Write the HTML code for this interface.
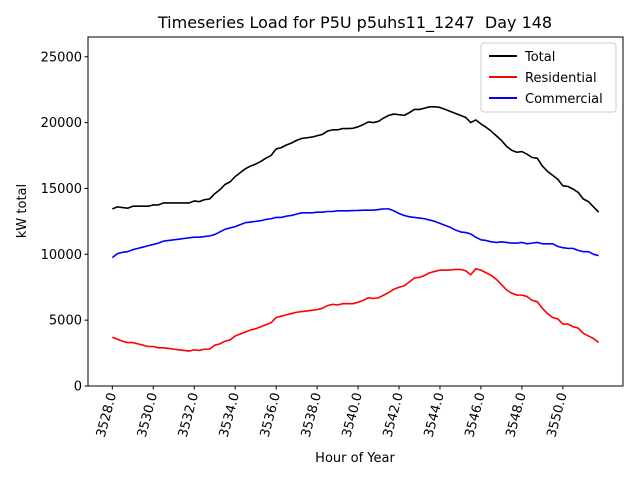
<!DOCTYPE html>
<html><head><meta charset="utf-8"><style>
html,body{margin:0;padding:0;background:#fff;}
svg text{font-family:"DejaVu Sans","Liberation Sans",sans-serif;}
</style></head><body>
<svg id="chart" width="640" height="480" xmlns="http://www.w3.org/2000/svg">
<rect width="640" height="480" fill="#fff"/>
<text x="355" y="28" font-size="16" text-anchor="middle" style="white-space:pre">Timeseries Load for P5U p5uhs11_1247  Day 148</text>
<g id="plot"></g>
<rect x="88" y="37" width="535" height="349" fill="none" stroke="#000" stroke-width="1"/>
<text transform="translate(26,211) rotate(-90)" font-size="13" text-anchor="middle">kW total</text>
<text x="355" y="462" font-size="13" text-anchor="middle">Hour of Year</text>
<g>
<rect x="481" y="43" width="135" height="69" rx="3" fill="#fff" fill-opacity="0.8" stroke="#ccc"/>
<line x1="489" y1="56" x2="517" y2="56" stroke="#000" stroke-width="2"/>
<text x="525" y="61" font-size="13">Total</text>
<line x1="489" y1="77" x2="517" y2="77" stroke="#f00" stroke-width="2"/>
<text x="525" y="82" font-size="13">Residential</text>
<line x1="489" y1="98" x2="517" y2="98" stroke="#00f" stroke-width="2"/>
<text x="525" y="103" font-size="13">Commercial</text>
</g>
</svg>
<script>
const startHour = 3528;
const stepHours = 0.25;
const residential = [3700,3550,3400,3300,3300,3200,3100,3000,3000,2900,2900,2850,2800,2750,2700,2650,2750,2700,2800,2800,3100,3200,3400,3500,3800,3950,4100,4250,4350,4500,4650,4800,5200,5300,5400,5500,5600,5650,5700,5750,5800,5900,6100,6200,6150,6250,6250,6250,6350,6500,6700,6650,6700,6900,7100,7350,7500,7600,7900,8200,8250,8400,8600,8700,8800,8800,8800,8850,8850,8750,8450,8900,8800,8600,8400,8100,7700,7300,7050,6900,6900,6800,6500,6400,5900,5500,5200,5100,4700,4700,4500,4400,4000,3800,3600,3300];
const commercial = [9750,10050,10150,10200,10350,10450,10550,10650,10750,10850,11000,11050,11100,11150,11200,11250,11300,11300,11350,11400,11500,11700,11900,12000,12100,12250,12400,12450,12500,12550,12650,12700,12800,12800,12900,12950,13050,13150,13150,13150,13200,13200,13250,13250,13300,13300,13300,13320,13330,13350,13350,13350,13400,13450,13450,13300,13100,12950,12850,12800,12750,12700,12600,12500,12350,12200,12050,11850,11700,11650,11550,11300,11100,11050,10950,10900,10950,10900,10850,10850,10900,10800,10850,10900,10800,10800,10800,10600,10500,10450,10450,10300,10200,10200,10000,9900];
const yTicks = [0,5000,10000,15000,20000,25000];
const xTicks = [3528,3530,3532,3534,3536,3538,3540,3542,3544,3546,3548,3550];

const NS="http://www.w3.org/2000/svg";
const L=88,R=623,T=37,B=386;
const total = residential.map((v,i)=>v+commercial[i]);
const hours = residential.map((_,i)=>startHour+i*stepHours);
const xmin=hours[0], xmax=hours[hours.length-1], xm=(xmax-xmin)*0.05;
const ymax=Math.max(...total)*1.25;
function xs(h){return L+(h-(xmin-xm))/((xmax+xm)-(xmin-xm))*(R-L);}
function ys(v){return B-v/ymax*(B-T);}
const g=document.getElementById('plot');
function mk(t,a){const e=document.createElementNS(NS,t);for(const k in a)e.setAttribute(k,a[k]);g.appendChild(e);return e;}
yTicks.forEach(v=>{
  const y=ys(v);
  const tk=mk('line',{x1:L-3.5,x2:L,y1:y,y2:y,stroke:'#000'});
  
  
  const t=mk('text',{x:L-6,y:y+4.5,'font-size':13,'text-anchor':'end'});
  
  
  t.textContent=v;
});
xTicks.forEach(h=>{
  const x=xs(h);
  const tk=mk('line',{x1:x,x2:x,y1:B,y2:B+3.5,stroke:'#000'});
  
  
  const t=mk('text',{transform:`translate(${x+4},${B+8}) rotate(-75)`,'font-size':13,'text-anchor':'end'});
  
  
  t.textContent=h.toFixed(1);
});
function line(arr,color,name){
  const p=mk('polyline',{points:arr.map((v,i)=>xs(hours[i]).toFixed(2)+','+ys(v).toFixed(2)).join(' '),fill:'none',stroke:color,'stroke-width':1.6,'stroke-linejoin':'round'});
  
  
}
line(total,'#000','total-line');
line(residential,'#f00','residential-line');
line(commercial,'#00f','commercial-line');
</script>
</body></html>
